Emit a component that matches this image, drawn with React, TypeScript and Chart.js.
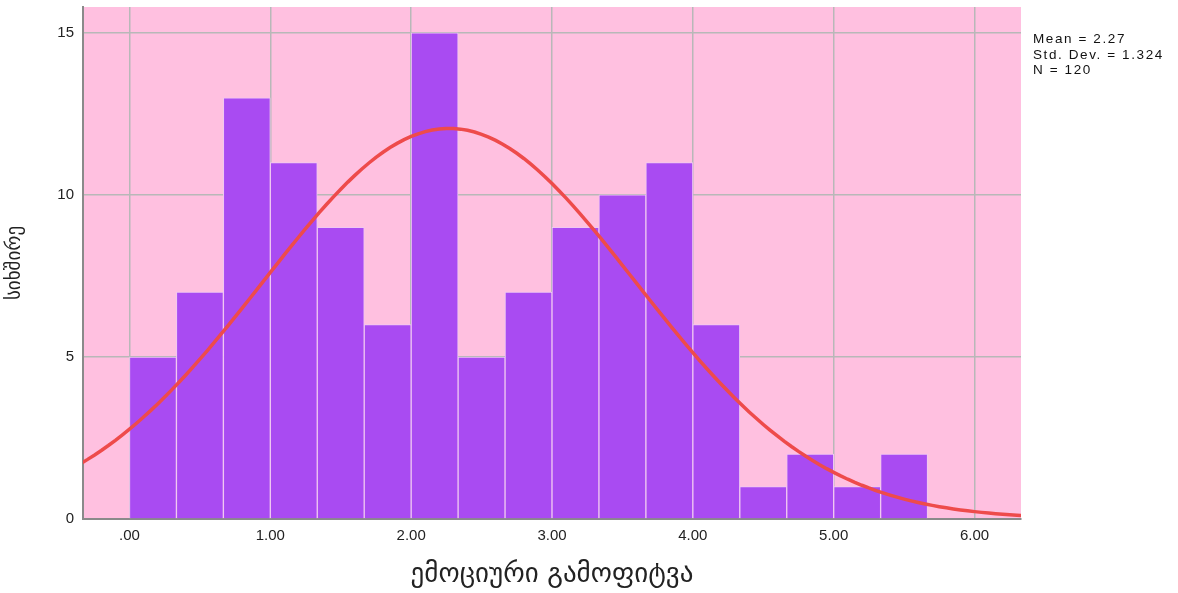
import React, { useEffect, useRef } from "react";
import { Chart, registerables } from "chart.js";

Chart.register(...registerables);

// Histogram bins (width 1/3) starting at 0
const binStarts = [0, 1 / 3, 2 / 3, 1, 4 / 3, 5 / 3, 2, 7 / 3, 8 / 3, 3, 10 / 3, 11 / 3, 4, 13 / 3, 14 / 3, 5, 16 / 3];
const binCounts = [5, 7, 13, 11, 9, 6, 15, 5, 7, 9, 10, 11, 6, 1, 2, 1, 2];
const binWidth = 1 / 3;

// Summary statistics shown on the chart (define the normal curve)
const statMean = 2.27;
const statSD = 1.324;
const statN = 120;
const statLines = ["Mean = 2.27", "Std. Dev. = 1.324", "N = 120"];

const xTickValues = [0, 1, 2, 3, 4, 5, 6];
const xTickLabels = [".00", "1.00", "2.00", "3.00", "4.00", "5.00", "6.00"];
const yTickValues = [0, 5, 10, 15];

const xAxisTitle = "ემოციური გამოფიტვა";
const yAxisTitle = "სიხშირე";

const curveXs: number[] = [];
for (let i = 0; i <= 140; i++) curveXs.push(-0.35 + i * 0.05);

export default function App() {
  const ref = useRef<HTMLCanvasElement>(null);
  useEffect(() => {
    document.body.style.margin = "0";
    const ctx = ref.current!.getContext("2d")!;
    (ctx as any).letterSpacing = "1px";
    const peak = (statN * binWidth) / (statSD * Math.sqrt(2 * Math.PI));
    const curve = curveXs.map((x) => ({
      x,
      y: peak * Math.exp(-((x - statMean) ** 2) / (2 * statSD * statSD)),
    }));
    const bars = binStarts.map((s, i) => ({ x: s + binWidth / 2, y: binCounts[i] }));

    const bgPlugin = {
      id: "plotBg",
      beforeDraw(chart: any) {
        const { ctx, chartArea } = chart;
        ctx.save();
        ctx.fillStyle = "#FFC0E0";
        ctx.fillRect(chartArea.left, chartArea.top, chartArea.right - chartArea.left, chartArea.bottom - chartArea.top);
        ctx.restore();
      },
    };

    const chart = new Chart(ctx, {
      type: "bar",
      data: {
        datasets: [
          {
            type: "line",
            data: curve,
            borderColor: "#EE4B4B",
            borderWidth: 3.5,
            pointRadius: 0,
            tension: 0,
            order: 0,
          } as any,
          {
            type: "bar",
            data: bars,
            backgroundColor: "#A94BF2",
            borderColor: "#F0C8F2",
            borderWidth: 1,
            barPercentage: 1,
            categoryPercentage: 1,
            grouped: false,
            order: 1,
          } as any,
        ],
      },
      options: {
        animation: false,
        responsive: false,
        layout: { padding: { left: 0, right: 157, top: 7, bottom: 0 } },
        plugins: { legend: { display: false }, tooltip: { enabled: false } },
        scales: {
          x: {
            type: "linear",
            min: -0.33,
            max: 6.33,
            offset: false,
            afterBuildTicks(scale: any) {
              scale.ticks = xTickValues.map((v) => ({ value: v }));
            },
            afterFit(scale: any) {
              scale.height = 74;
              scale.paddingLeft = 0;
              scale.paddingRight = 0;
            },
            ticks: {
              padding: 8,
              color: "#222",
              font: { family: "'Liberation Sans', Arial, sans-serif", size: 15 },
              maxRotation: 0,
              callback: (v: any) => {
                const i = xTickValues.indexOf(Number(v));
                return i >= 0 ? xTickLabels[i] : "";
              },
            },
            grid: { color: "#B8B8B8", lineWidth: 1.5, drawTicks: false, offset: false },
            border: { display: true, color: "#8A8A8A", width: 2 },
            title: {
              display: true,
              text: xAxisTitle,
              color: "#222",
              font: { family: "'DejaVu Sans', sans-serif", size: 27 },
              padding: { top: 0, bottom: 2 },
            },
          },
          y: {
            type: "linear",
            min: 0,
            max: 15.8,
            afterBuildTicks(scale: any) {
              scale.ticks = yTickValues.map((v) => ({ value: v }));
            },
            afterFit(scale: any) {
              scale.width = 83;
              scale.paddingTop = 0;
              scale.paddingBottom = 0;
            },
            ticks: {
              padding: 9,
              color: "#222",
              font: { family: "'Liberation Sans', Arial, sans-serif", size: 15 },
            },
            grid: { color: "#B8B8B8", lineWidth: 1.5, drawTicks: false },
            border: { display: true, color: "#8A8A8A", width: 2 },
            title: {
              display: true,
              text: yAxisTitle,
              color: "#222",
              font: { family: "'DejaVu Sans', sans-serif", size: 19 },
              padding: { top: 4, bottom: 0 },
            },
          },
        },
      },
      plugins: [bgPlugin],
    });
    return () => chart.destroy();
  }, []);

  return (
    <div style={{ position: "relative", width: 1178, height: 593 }}>
      <canvas ref={ref} width={1178} height={593} style={{ display: "block" }} />
      <div
        style={{
          position: "absolute",
          left: 1033,
          top: 31,
          fontFamily: "'Liberation Sans', Arial, sans-serif",
          fontSize: 13.5,
          letterSpacing: "1.6px",
          lineHeight: "15.5px",
          color: "#111",
        }}
      >
        {statLines.map((s) => (
          <div key={s}>{s}</div>
        ))}
      </div>
    </div>
  );
}
